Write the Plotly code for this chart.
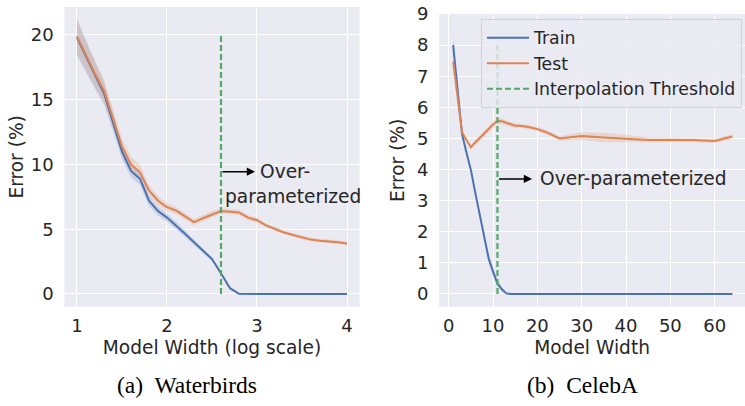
import plotly.graph_objects as go

# ---- Waterbirds (log-scale model width) ----
wb_width = [1.0, 1.1, 1.2, 1.3, 1.4, 1.5, 1.6, 1.7, 1.8, 1.9, 2.0, 2.1, 2.2, 2.3, 2.4, 2.5,
            2.6, 2.7, 2.8, 2.9, 3.0, 3.1, 3.2, 3.3, 3.4, 3.5, 3.6, 3.7, 3.8, 3.9, 4.0]
wb_train = [19.8, 18.3, 16.9, 15.5, 13.3, 11.0, 9.5, 8.9, 7.2, 6.4, 5.9, 5.3, 4.65, 4.0, 3.35, 2.7,
            1.6, 0.45, 0.02, 0.0, 0.0, 0.0, 0.0, 0.0, 0.0, 0.0, 0.0, 0.0, 0.0, 0.0, 0.0]
wb_train_sd = [1.45, 1.25, 1.05, 0.85, 0.7, 0.6, 0.5, 0.5, 0.4, 0.35, 0.3, 0.3, 0.25, 0.2, 0.2, 0.15,
               0.15, 0.1, 0.03, 0.01, 0.01, 0.01, 0.01, 0.01, 0.01, 0.01, 0.01, 0.01, 0.01, 0.01, 0.01]
wb_test = [19.9, 18.4, 17.0, 15.7, 13.6, 11.4, 10.0, 9.4, 8.0, 7.2, 6.7, 6.45, 6.0, 5.55, 5.85, 6.15,
           6.4, 6.35, 6.3, 5.9, 5.7, 5.3, 5.0, 4.75, 4.55, 4.35, 4.2, 4.12, 4.08, 4.0, 3.9]
wb_test_sd = [1.3, 1.1, 1.0, 0.9, 0.7, 0.6, 0.6, 0.6, 0.4, 0.35, 0.3, 0.25, 0.25, 0.25, 0.25, 0.25,
              0.2, 0.2, 0.2, 0.2, 0.2, 0.15, 0.15, 0.15, 0.15, 0.15, 0.15, 0.15, 0.15, 0.15, 0.15]
wb_threshold = 2.6
wb_ticks = [1, 2, 3, 4]

# ---- CelebA (linear model width) ----
ca_width = [1, 2, 3, 4, 5, 6, 7, 8, 9, 10, 11, 12, 13, 14, 15, 16, 17, 18, 20, 22, 25,
            30, 35, 40, 45, 50, 55, 60, 64]
ca_train = [8.0, 6.55, 5.15, 4.55, 3.99, 3.25, 2.55, 1.85, 1.15, 0.72, 0.34, 0.15, 0.02, 0.0,
            0.0, 0.0, 0.0, 0.0, 0.0, 0.0, 0.0, 0.0, 0.0, 0.0, 0.0, 0.0, 0.0, 0.0, 0.0]
ca_train_sd = [0.36, 0.2, 0.1, 0.08, 0.08, 0.08, 0.1, 0.12, 0.15, 0.14, 0.12, 0.06, 0.02, 0.01,
               0.01, 0.01, 0.01, 0.01, 0.01, 0.01, 0.01, 0.01, 0.01, 0.01, 0.01, 0.01, 0.01, 0.01, 0.01]
ca_test = [7.47, 6.35, 5.2, 4.95, 4.72, 4.87, 5.02, 5.17, 5.3, 5.45, 5.56, 5.55, 5.5, 5.45,
           5.41, 5.41, 5.4, 5.37, 5.3, 5.2, 5.0, 5.08, 5.03, 5.0, 4.95, 4.95, 4.95, 4.92, 5.06]
ca_test_sd = [0.05, 0.05, 0.06, 0.06, 0.07, 0.08, 0.09, 0.1, 0.1, 0.1, 0.1, 0.09, 0.08, 0.08,
              0.08, 0.07, 0.07, 0.07, 0.07, 0.07, 0.07, 0.12, 0.15, 0.12, 0.08, 0.07, 0.07, 0.07, 0.08]
ca_threshold = 11
ca_ticks = [0, 10, 20, 30, 40, 50, 60]

BLUE = "#4c72b0"
ORANGE = "#dd8452"
GREEN = "#55a868"
BG = "#eaeaf2"
TXT = "#262626"
FONT = "DejaVu Sans"
DASH = "6px,3px"

fig = go.Figure()


def add_band(x, mean, sd, color_rgba, xa, ya):
    upper = [m + s for m, s in zip(mean, sd)]
    lower = [m - s for m, s in zip(mean, sd)]
    fig.add_trace(go.Scatter(x=x + x[::-1], y=upper + lower[::-1], fill="toself",
                             fillcolor=color_rgba, line=dict(width=0), mode="lines",
                             hoverinfo="skip", showlegend=False, xaxis=xa, yaxis=ya))


# Waterbirds panel
add_band(wb_width, wb_train, wb_train_sd, "rgba(76,114,176,0.2)", "x", "y")
add_band(wb_width, wb_test, wb_test_sd, "rgba(221,132,82,0.2)", "x", "y")
fig.add_trace(go.Scatter(x=wb_width, y=wb_train, mode="lines", line=dict(color=BLUE, width=2),
                         showlegend=False, xaxis="x", yaxis="y"))
fig.add_trace(go.Scatter(x=wb_width, y=wb_test, mode="lines", line=dict(color=ORANGE, width=2),
                         showlegend=False, xaxis="x", yaxis="y"))
fig.add_trace(go.Scatter(x=[wb_threshold, wb_threshold], y=[0, 20], mode="lines",
                         line=dict(color=GREEN, width=2.2, dash=DASH),
                         showlegend=False, xaxis="x", yaxis="y"))

# CelebA panel
add_band(ca_width, ca_train, ca_train_sd, "rgba(76,114,176,0.2)", "x2", "y2")
add_band(ca_width, ca_test, ca_test_sd, "rgba(221,132,82,0.2)", "x2", "y2")
fig.add_trace(go.Scatter(x=ca_width, y=ca_train, mode="lines", name="Train",
                         line=dict(color=BLUE, width=2), xaxis="x2", yaxis="y2"))
fig.add_trace(go.Scatter(x=ca_width, y=ca_test, mode="lines", name="Test",
                         line=dict(color=ORANGE, width=2), xaxis="x2", yaxis="y2"))
fig.add_trace(go.Scatter(x=[ca_threshold, ca_threshold], y=[0, 8], mode="lines",
                         name="Interpolation Threshold",
                         line=dict(color=GREEN, width=2.2, dash=DASH),
                         xaxis="x2", yaxis="y2"))

axis_common = dict(showgrid=True, gridcolor="white", gridwidth=1.3, zeroline=False,
                   showline=False, ticks="outside", tickcolor="rgba(0,0,0,0)",
                   automargin=False,
                   tickfont=dict(family=FONT, size=18, color=TXT))

fig.update_layout(
    width=745, height=406, autosize=False,
    margin=dict(l=0, r=0, t=0, b=0, pad=0),
    paper_bgcolor="white", plot_bgcolor=BG,
    font=dict(family=FONT, color=TXT),
    xaxis=dict(domain=[0.0864, 0.4827], range=[0.86, 4.14], tickvals=wb_ticks, ticklen=3,
               title=dict(text="Model Width (log scale)", font=dict(size=18.6), standoff=5),
               anchor="y", **axis_common),
    yaxis=dict(domain=[0.2446, 0.98276], range=[-0.98, 22.16], tickvals=[0, 5, 10, 15, 20],
               ticklen=6, title=dict(text="Error (%)", font=dict(size=18.6), standoff=2),
               anchor="x", **axis_common),
    xaxis2=dict(domain=[0.5895, 1.0], range=[-2.15, 66.84], tickvals=ca_ticks, ticklen=3,
                title=dict(text="Model Width", font=dict(size=18.6), standoff=5),
                anchor="y2", **axis_common),
    yaxis2=dict(domain=[0.2446, 0.96552], range=[-0.408, 9.0], tickvals=list(range(10)),
                ticklen=6, title=dict(text="Error (%)", font=dict(size=18.6), standoff=7),
                anchor="x2", **axis_common),
    legend=dict(x=481 / 745, y=1 - 19 / 406, xanchor="left", yanchor="top",
                bgcolor="rgba(234,234,242,0.8)", bordercolor="rgba(204,204,204,0.8)",
                borderwidth=1, font=dict(family=FONT, size=17.3, color=TXT),
                itemwidth=42, traceorder="normal"),
)

# Over-parameterized markers
fig.add_annotation(x=2.978, y=9.44, ax=wb_threshold, ay=9.44, xref="x", yref="y",
                   axref="x", ayref="y", text="", showarrow=True, arrowhead=2,
                   arrowsize=1.1, arrowwidth=1.5, arrowcolor="black", standoff=0, startstandoff=0)
fig.add_annotation(x=3.01, y=9.44, xref="x", yref="y", text="Over-", showarrow=False,
                   xanchor="left", yanchor="middle", font=dict(family=FONT, size=18.6, color=TXT))
fig.add_annotation(x=2.62, y=7.5, xref="x", yref="y", text="parameterized", showarrow=False,
                   xanchor="left", yanchor="middle", font=dict(family=FONT, size=18.6, color=TXT))

fig.add_annotation(x=18.8, y=3.70, ax=ca_threshold, ay=3.70, xref="x2", yref="y2",
                   axref="x2", ayref="y2", text="", showarrow=True, arrowhead=2,
                   arrowsize=1.1, arrowwidth=1.5, arrowcolor="black", standoff=0, startstandoff=0)
fig.add_annotation(x=20.08, y=3.70, xref="x2", yref="y2", text="Over-parameterized",
                   showarrow=False, xanchor="left", yanchor="middle",
                   font=dict(family=FONT, size=18.6, color=TXT))

# Sub-figure captions
fig.add_annotation(x=187 / 745, y=1 - 385 / 406, xref="paper", yref="paper",
                   text="(a)  Waterbirds", showarrow=False, xanchor="center", yanchor="middle",
                   font=dict(family="Liberation Serif", size=23.5, color="black"))
fig.add_annotation(x=582 / 745, y=1 - 385 / 406, xref="paper", yref="paper",
                   text="(b)  CelebA", showarrow=False, xanchor="center", yanchor="middle",
                   font=dict(family="Liberation Serif", size=23.5, color="black"))

fig.write_html("out.html")
